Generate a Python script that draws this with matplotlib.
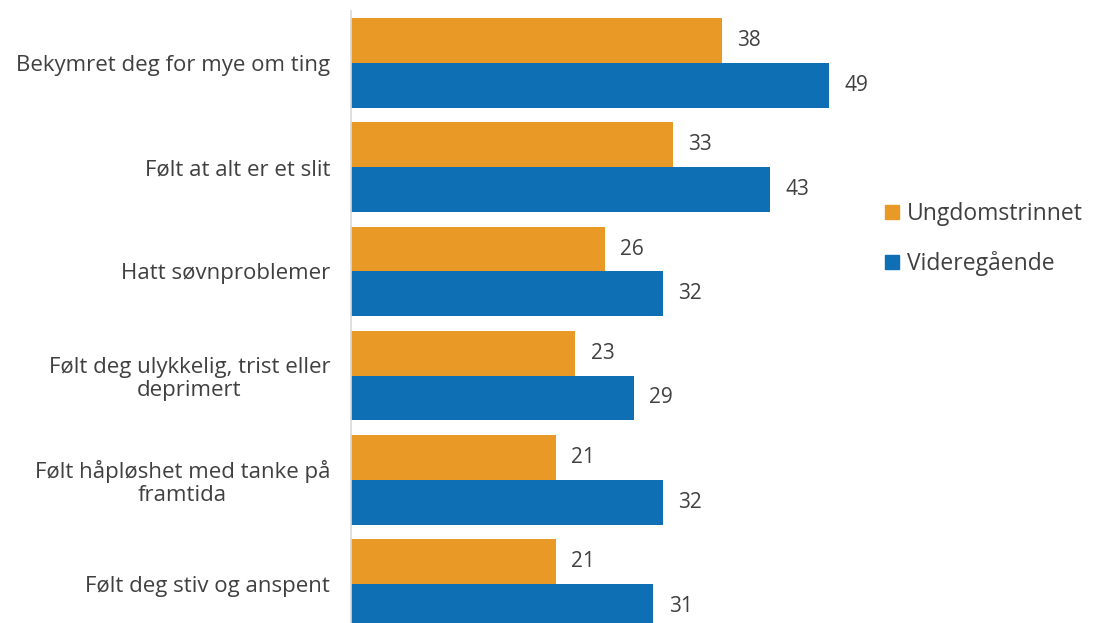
import matplotlib
matplotlib.use("Agg")
import matplotlib.pyplot as plt
from matplotlib.patches import Patch
import numpy as np

categories = [
    "Bekymret deg for mye om ting",
    "Følt at alt er et slit",
    "Hatt søvnproblemer",
    "Følt deg ulykkelig, trist eller\ndeprimert",
    "Følt håpløshet med tanke på\nframtida",
    "Følt deg stiv og anspent",
]
ungdomstrinnet = [38, 33, 26, 23, 21, 21]
videregaende = [49, 43, 32, 29, 32, 31]
series_names = ["Ungdomstrinnet", "Videregående"]

orange = "#E99A26"
blue = "#0F6FB5"
text_col = "#404040"

plt.rcParams["font.family"] = ["Open Sans", "DejaVu Sans"]

fig = plt.figure(figsize=(11.01, 6.23), dpi=100)
# axes extends a little below the figure, like the cropped original
ax = fig.add_axes([351 / 1101, -13 / 623, 487.75 / 1101, 625 / 623])

y = np.arange(len(categories))
h = 0.43
b1 = ax.barh(y - h / 2, ungdomstrinnet, height=h, color=orange)
b2 = ax.barh(y + h / 2, videregaende, height=h, color=blue)

for bars in (b1, b2):
    for bar in bars:
        w = bar.get_width()
        ax.annotate(f"{w:g}", (w, bar.get_y() + bar.get_height() / 2),
                    xytext=(11, 0), textcoords="offset points",
                    ha="left", va="center", fontsize=15, color=text_col)

ax.set_xlim(0, 50)
ax.set_ylim(len(categories) - 0.5, -0.5)
ax.set_yticks(y)
ax.set_yticklabels(categories, fontsize=16, color=text_col,
                   multialignment="center", linespacing=1.1)
ax.tick_params(axis="y", length=0, pad=15)
ax.set_xticks([])
for s in ("top", "right", "bottom"):
    ax.spines[s].set_visible(False)
ax.spines["left"].set_color("#d9d9d9")
ax.spines["left"].set_linewidth(1.2)

handles = [Patch(color=orange), Patch(color=blue)]
fig.legend(handles, series_names, loc="center left",
           bbox_to_anchor=(885 / 1101, 1 - 239 / 623), frameon=False,
           borderpad=0, borderaxespad=0,
           fontsize=16.5, handlelength=0.6, handleheight=0.6,
           handletextpad=0.35, labelspacing=1.1, labelcolor=text_col)

fig.savefig("out.png", dpi=100)
